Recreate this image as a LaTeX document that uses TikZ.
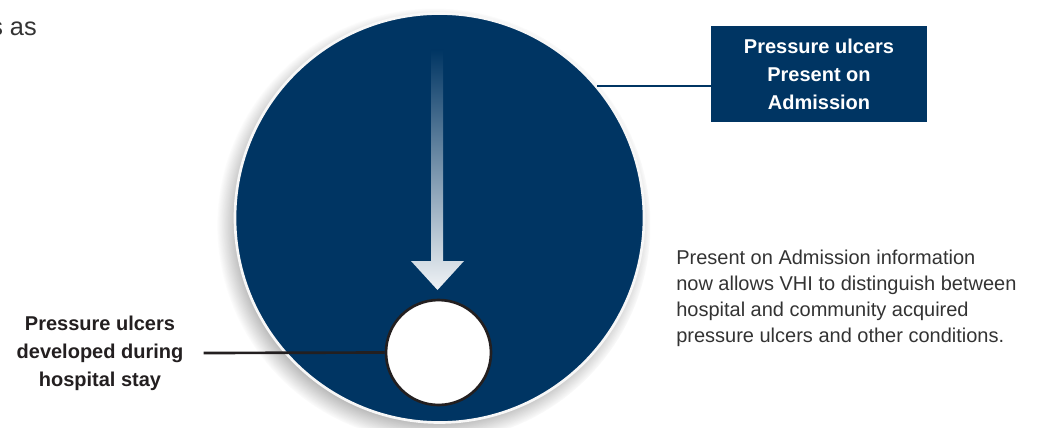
\documentclass[tikz,border=0pt]{standalone}
\usepackage{fontspec}
\setmainfont{Liberation Sans}
\usetikzlibrary{shadows,positioning}
\definecolor{navy}{HTML}{003563}
\definecolor{ink}{HTML}{231F20}

\begin{document}
\begin{tikzpicture}[x=0.75pt,y=-0.75pt,
disc/.style={circle,draw=white!94!gray,line width=2pt,fill=navy,minimum size=306.75pt,inner sep=0pt},
hole/.style={circle,draw=ink,line width=2pt,fill=white,minimum size=78.75pt,inner sep=0pt},
tag/.style={fill=navy,text=white,font=\fontsize{15}{21}\selectfont\bfseries,align=center,minimum width=162pt,minimum height=72pt},
lbl/.style={font=\fontsize{15}{21}\selectfont\bfseries,text=ink,align=center},
note/.style={font=\fontsize{15}{19.5}\selectfont,text=black!80,align=left},
link/.style={line width=1.5pt}]
\useasboundingbox (0,0) rectangle (1038,428);
\node[note,font=\fontsize{19}{23}\selectfont,anchor=base east,inner sep=0pt](cut) at (37,36){s as};
\node[disc,circular drop shadow={shadow xshift=-4pt,shadow yshift=-5pt,shadow scale=1.06,fill=black!70,opacity=.6}](pool) at (439.5,218){};
% fading arrow inside the disc
\shade[top color=navy,bottom color=white!94!navy]
  (431,50) -- (443,50) -- (443,261) -- (464,261) -- (437.5,290) -- (411,261) -- (431,261) -- cycle;
\node[hole](hosp) at (438.5,352.5){};
\node[tag](poa) at (819,74){Pressure ulcers\\Present on\\Admission};
\node[lbl,inner xsep=15pt](dev) at (100,353){Pressure ulcers\\developed during\\hospital stay};
\node[note,anchor=west,inner xsep=0pt](info) at (676,298){Present on Admission information\\now allows VHI to distinguish between\\hospital and community acquired\\pressure ulcers and other conditions.};
\draw[link,navy](pool.40)--(pool.40 -| poa.west);
\draw[link,ink,line width=2pt](dev.east)--(hosp.west);
\end{tikzpicture}
\end{document}
